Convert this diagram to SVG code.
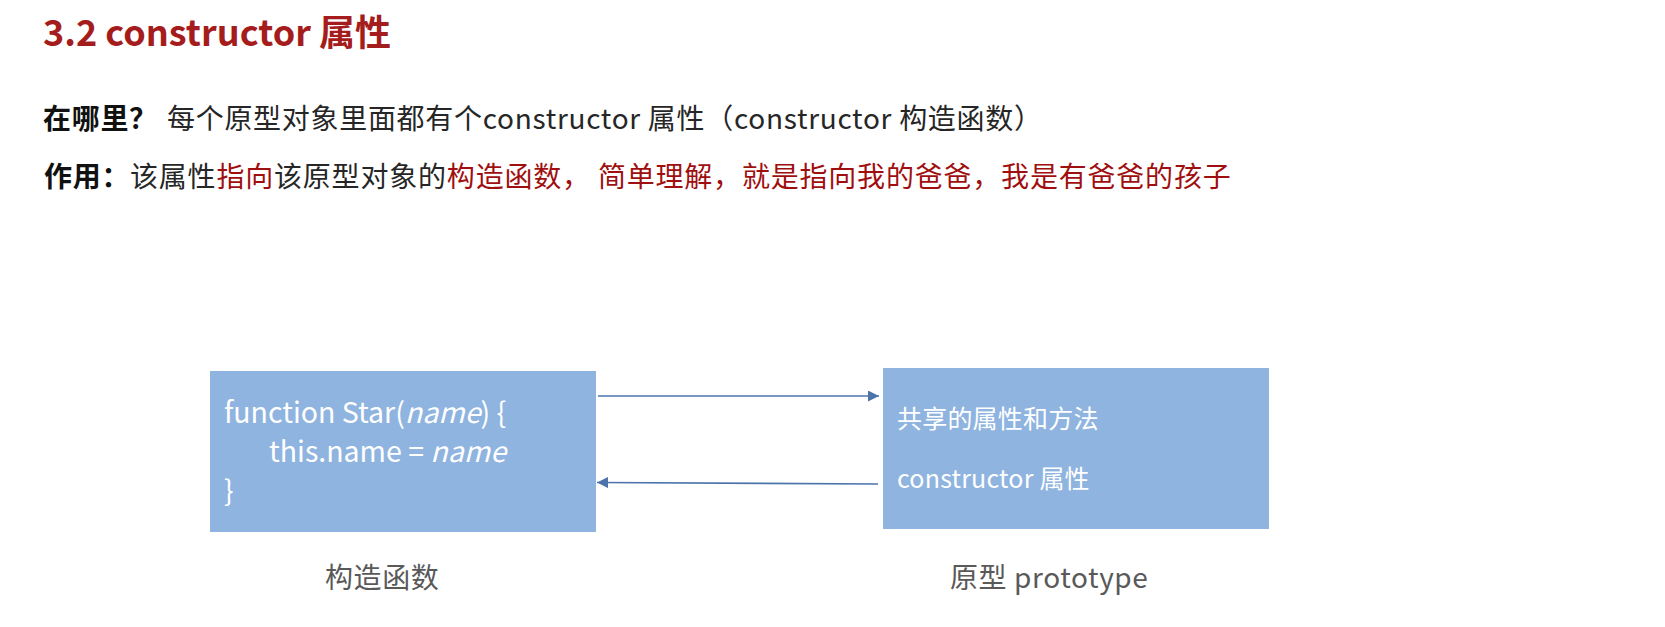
<svg xmlns="http://www.w3.org/2000/svg" width="1665" height="627" viewBox="0 0 1665 627">
  <defs>
    <style>
      text { font-family: "Noto Sans CJK SC", "Noto Sans", "Liberation Sans", sans-serif; }
      .title { font-size: 36px; font-weight: 700; fill: #a51c1c; }
      .body { font-size: 28px; fill: #262626; }
      .l1 { letter-spacing: 0.7px; }
      .l2 { letter-spacing: 0.8px; }
      .key { font-weight: 700; fill: #111111; }
      .hl { fill: #a00f0f; }
      .box { fill: #8fb4e0; }
      .boxtext { font-size: 25px; fill: #ffffff; letter-spacing: 0.2px; }
      .code { font-size: 28.5px; fill: #ffffff; }
      .caption { font-size: 28px; fill: #595959; letter-spacing: 0.6px; }
      .link { stroke: #4c74ab; stroke-width: 1.6; fill: none; }
    </style>
    <marker id="arrow" viewBox="0 0 10 10" refX="10" refY="5" markerWidth="11" markerHeight="11" markerUnits="userSpaceOnUse" orient="auto">
      <path d="M0,0 L10,5 L0,10 z" fill="#4c74ab"/>
    </marker>
  </defs>

  <rect width="1665" height="627" fill="#ffffff"/>

  <!-- heading and explanation -->
  <text class="title" x="43" y="46">3.2 constructor 属性</text>
  <text class="body l1" x="43" y="129"><tspan class="key">在哪里？</tspan><tspan x="167">每个原型对象里面都有个constructor 属性（constructor 构造函数）</tspan></text>
  <text class="body l2" x="44" y="187"><tspan class="key">作用：</tspan><tspan x="130">该属性</tspan><tspan class="hl">指向</tspan><tspan>该原型对象的</tspan><tspan class="hl">构造函数， 简单理解，就是指向我的爸爸，我是有爸爸的孩子</tspan></text>

  <!-- constructor function node -->
  <g id="constructor-node">
    <rect class="box" x="210" y="371" width="386" height="161"/>
    <text class="code" x="224" y="423">function Star(<tspan font-style="italic">name</tspan>) {</text>
    <text class="code" x="269" y="462">this.name = <tspan font-style="italic">name</tspan></text>
    <text class="code" x="224" y="501">}</text>
    <text class="caption" x="325" y="588">构造函数</text>
  </g>

  <!-- prototype object node -->
  <g id="prototype-node">
    <rect class="box" x="883" y="368" width="386" height="161"/>
    <text class="boxtext" x="897" y="428">共享的属性和方法</text>
    <text class="boxtext" x="897" y="488">constructor 属性</text>
    <text class="caption" x="950" y="588">原型 prototype</text>
  </g>

  <!-- connectors -->
  <g id="connectors">
    <line class="link" x1="598" y1="396" x2="879" y2="396" marker-end="url(#arrow)"/>
    <line class="link" x1="878" y1="484" x2="597" y2="482.5" marker-end="url(#arrow)"/>
  </g>
</svg>
